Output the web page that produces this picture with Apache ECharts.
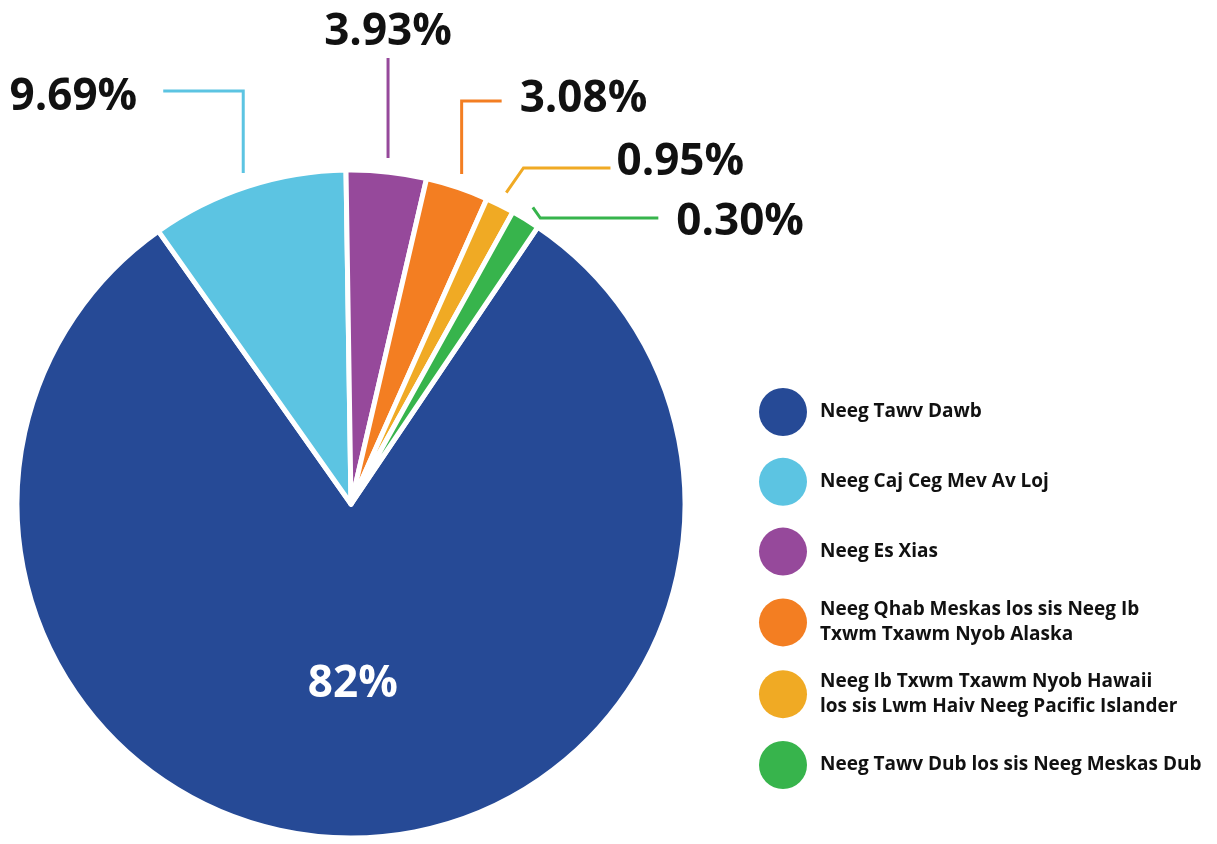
<!DOCTYPE html>
<html>
<head>
<meta charset="utf-8">
<script src="https://cdn.jsdelivr.net/npm/echarts@6/dist/echarts.min.js"></script>
<style>
  html, body { margin: 0; padding: 0; background: #ffffff; }
  #chart { width: 1217px; height: 844px; }
</style>
</head>
<body>
<div id="chart"></div>
<script>
// ---- data ----
const categories = [
  'Neeg Tawv Dawb',
  'Neeg Caj Ceg Mev Av Loj',
  'Neeg Es Xias',
  'Neeg Qhab Meskas los sis Neeg Ib\nTxwm Txawm Nyob Alaska',
  'Neeg Ib Txwm Txawm Nyob Hawaii\nlos sis Lwm Haiv Neeg Pacific Islander',
  'Neeg Tawv Dub los sis Neeg Meskas Dub'
];
const values = [82, 9.69, 3.93, 3.08, 0.95, 0.30];

// ---- style ----
const colors = ['#264A96', '#5CC4E2', '#96499B', '#F37E22', '#F0AA24', '#37B44C'];
const FONT = '"Open Sans", "Noto Sans", sans-serif';
const CX = 351, CY = 504, R = 334;
const GAP = 14; // gap between slice edge and leader line start
// leader line styles per slice index (layout only)
const leaders = {
  0: { kind: 'inside', dx: 0, dy: 10 },
  1: { kind: 'elbow', y: 91,  dir: -1, len: 80,  gap: 26, labelY: 97 },
  2: { kind: 'up',    y: 58,  labelY: 32 },
  3: { kind: 'elbow', y: 101, dir: 1,  len: 40,  gap: 18, labelY: 99 },
  4: { kind: 'diag',  y: 168, dir: 1,  len: 87,  gap: 6,  slope: 0.7, labelY: 162 },
  5: { kind: 'diag',  y: 218, dir: 1,  len: 118, gap: 18, slope: 0.7, labelY: 222 }
};

function fmt(v) {
  return (Number.isInteger(v) ? String(v) : v.toFixed(2)) + '%';
}

const chart = echarts.init(document.getElementById('chart'), null, { renderer: 'canvas' });

chart.setOption({
  animation: false,
  legend: {
    orient: 'vertical',
    left: 759,
    top: 388,
    padding: 0,
    icon: 'circle',
    itemWidth: 48,
    itemHeight: 48,
    itemGap: 21.8,
    selectedMode: false,
    itemStyle: { borderWidth: 0 },
    textStyle: {
      fontFamily: FONT,
      fontSize: 19,
      fontWeight: 'bold',
      color: '#111111',
      lineHeight: 25,
      padding: [0, 0, 0, 8]
    },
    data: categories
  },
  series: [{
    type: 'pie',
    center: [CX, CY],
    radius: R,
    startAngle: 56,
    minAngle: 5,
    clockwise: true,
    avoidLabelOverlap: false,
    emphasis: { disabled: true },
    itemStyle: { borderColor: '#ffffff', borderWidth: 5 },
    label: {
      show: true,
      position: 'outside',
      formatter: p => fmt(p.value),
      fontFamily: FONT,
      fontSize: 44,
      fontWeight: 'bold',
      color: '#111111'
    },
    labelLine: { show: true, length: 10, length2: 0, smooth: false, lineStyle: { width: 3 } },
    labelLayout: function (p) {
      const L = leaders[p.dataIndex];
      if (!L) return {};
      if (L.kind === 'inside') return { dx: L.dx, dy: L.dy };
      if (!p.labelLinePoints || p.labelLinePoints.length < 2) return {};
      const p0 = p.labelLinePoints[0], p1 = p.labelLinePoints[1];
      let ux = p1[0] - p0[0], uy = p1[1] - p0[1];
      const n = Math.hypot(ux, uy) || 1; ux /= n; uy /= n;
      const ax = p0[0] + ux * GAP, ay = p0[1] + uy * GAP;
      if (L.kind === 'up') {
        return {
          x: ax, y: L.labelY, align: 'center', verticalAlign: 'middle',
          labelLinePoints: [[ax, ay], [ax, L.y], [ax, L.y]]
        };
      }
      const ex = L.kind === 'elbow' ? ax : ax + L.dir * L.slope * Math.abs(ay - L.y);
      const hx = ex + L.dir * L.len;
      return {
        x: hx + L.dir * L.gap, y: L.labelY,
        align: L.dir < 0 ? 'right' : 'left', verticalAlign: 'middle',
        labelLinePoints: [[ax, ay], [ex, L.y], [hx, L.y]]
      };
    },
    data: categories.map((name, i) => ({
      name: name,
      value: values[i],
      itemStyle: { color: colors[i] },
      label: i === 0 ? { position: 'inside', color: '#ffffff', fontSize: 44 } : undefined,
      labelLine: i === 0 ? { show: false } : undefined
    }))
  }]
});
</script>
</body>
</html>
